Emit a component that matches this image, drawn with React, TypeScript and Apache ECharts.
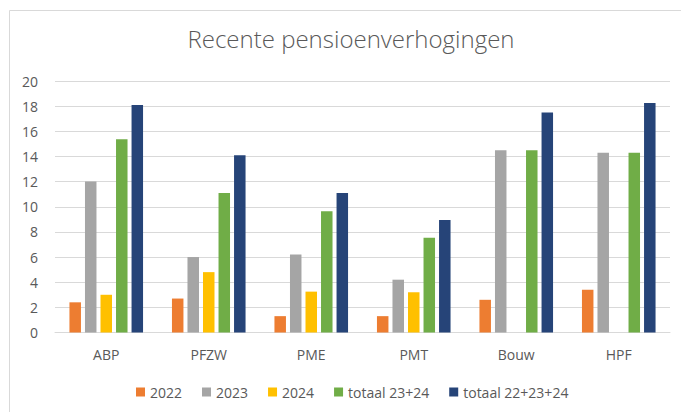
import React, { useEffect, useRef } from "react";
import * as echarts from "echarts";

const categories = ["ABP", "PFZW", "PME", "PMT", "Bouw", "HPF"];
const seriesNames = ["2022", "2023", "2024", "totaal 23+24", "totaal 22+23+24"];
const v2022 = [2.4, 2.7, 1.3, 1.3, 2.6, 3.4];
const v2023 = [12.0, 6.0, 6.2, 4.2, 14.5, 14.3];
const v2024 = [3.0, 4.8, 3.25, 3.2, null, null];
const vTot2324 = [15.36, 11.1, 9.65, 7.53, 14.5, 14.3];
const vTot222324 = [18.1, 14.1, 11.1, 8.95, 17.5, 18.25];
const colors = ["#ED7D31", "#A5A5A5", "#FFC000", "#70AD47", "#264478"];
const yTicks = { min: 0, max: 20, interval: 2 };

export default function App() {
  const ref = useRef<HTMLDivElement>(null);
  useEffect(() => {
    if (!ref.current) return;
    const chart = echarts.init(ref.current, null, { renderer: "svg" });
    const data = [v2022, v2023, v2024, vTot2324, vTot222324];
    const font = "Open Sans";
    chart.setOption({
      animation: false,
      backgroundColor: "#ffffff",
      title: {
        text: "Recente pensioenverhogingen",
        left: 346,
        textAlign: "center",
        top: 21,
        textStyle: { fontFamily: font, fontWeight: 300, fontSize: 24, color: "#595959" },
      },
      graphic: [
        {
          type: "rect",
          shape: { x: 9.5, y: 10.5, width: 700, height: 430 },
          style: { fill: "none", stroke: "#d9d9d9", lineWidth: 1 },
          silent: true,
        },
      ],
      legend: {
        data: seriesNames,
        top: 380,
        left: 131,
        itemWidth: 9,
        itemHeight: 9,
        itemGap: 20,
        icon: "rect",
        textStyle: { fontFamily: font, fontSize: 14, color: "#595959" },
      },
      grid: { left: 55, right: 11, top: 81, bottom: 79.5 },
      xAxis: {
        type: "category",
        data: categories,
        axisLine: { lineStyle: { color: "#d9d9d9" } },
        axisTick: { show: false },
        axisLabel: { margin: 15, fontFamily: font, fontSize: 14, color: "#595959" },
      },
      yAxis: {
        type: "value",
        min: yTicks.min,
        max: yTicks.max,
        interval: yTicks.interval,
        axisLine: { show: false },
        axisTick: { show: false },
        splitLine: { lineStyle: { color: "#d9d9d9" } },
        axisLabel: { margin: 17, fontFamily: font, fontSize: 14, color: "#595959" },
      },
      series: seriesNames.map((name, i) => ({
        name,
        type: "bar",
        data: data[i],
        barWidth: 11.5,
        barGap: "35%",
        itemStyle: { color: colors[i] },
      })),
    });
    return () => chart.dispose();
  }, []);
  return (
    <div
      ref={ref}
      style={{ position: "fixed", left: 0, top: 0, width: 681, height: 412 }}
    />
  );
}
